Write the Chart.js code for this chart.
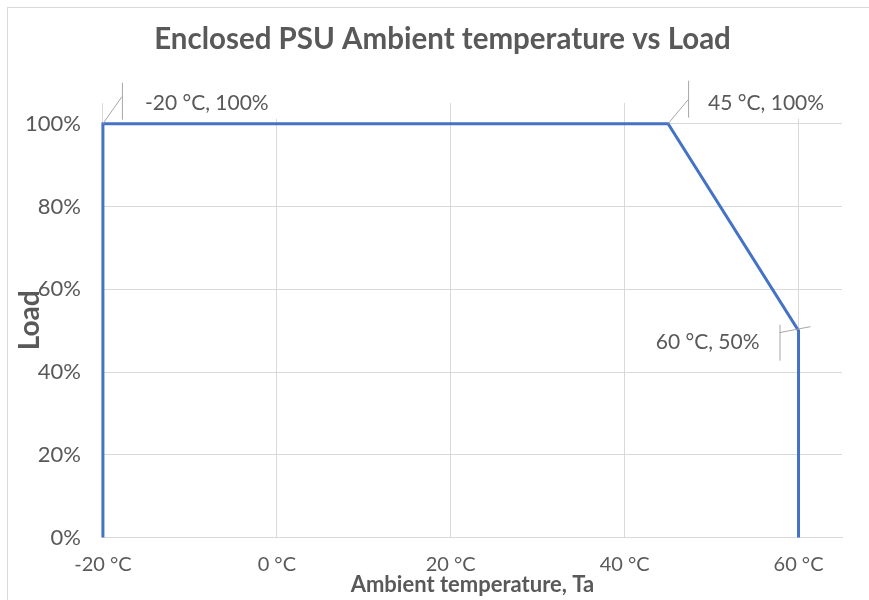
<!DOCTYPE html>
<html>
<head>
<meta charset="utf-8">
<script src="https://cdn.jsdelivr.net/npm/chart.js@4/dist/chart.umd.min.js"></script>
<style>
  html, body { margin: 0; padding: 0; background: #fff; }
  #wrap { width: 869px; height: 600px; position: relative; }
</style>
</head>
<body>
<div id="wrap"><canvas id="derating"></canvas></div>
<script>
// derating curve points (temperature in °C, load in %)
const temps = [-20, -20, 45, 60, 60];
const loads = [0, 100, 100, 50, 0];
const xTicks = [-20, 0, 20, 40, 60];
const yTicks = [0, 20, 40, 60, 80, 100];
const labelledPoints = [1, 2, 3];

const grey = '#595959';
const gridGrey = '#d9d9d9';
const fontFamily = 'Lato, "Open Sans", sans-serif';

// where each data label sits relative to its point
const labelStyle = {
    1: { dx: 42, dy: -20, align: 'left', lead: [19, -27], bar: [19, -41, 19, -4] },
    2: { dx: 40, dy: -20, align: 'left', lead: [20, -24], bar: [20, -43, 20, -6] },
    3: { dx: -39, dy: 12, align: 'right', lead: [-19, 2], bar: [-19, -6, -19, 30], lead2: [12, -4] }
};

const points = temps.map(function (t, i) { return { x: t, y: loads[i] }; });

const frame = {
    id: 'frame',
    afterLayout: function (chart) {
        // the title sits a little right of the canvas centre
        if (chart.titleBlock) {
            chart.titleBlock.left += 30;
        }
    },
    beforeDraw: function (chart) {
        const c = chart.ctx;
        c.save();
        c.strokeStyle = gridGrey;
        c.lineWidth = 1;
        c.strokeRect(7.5, 7.5, chart.width, chart.height);
        c.restore();
    }
};

const dataLabels = {
    id: 'dataLabels',
    afterDatasetsDraw: function (chart) {
        const c = chart.ctx;
        const meta = chart.getDatasetMeta(0);
        c.save();
        c.font = '21px ' + fontFamily;
        c.textBaseline = 'middle';
        labelledPoints.forEach(function (i) {
            const el = meta.data[i];
            const s = labelStyle[i];
            const text = temps[i] + ' °C, ' + loads[i] + '%';
            const w = c.measureText(text).width;
            const tx = el.x + s.dx;
            const ty = el.y + s.dy;
            const left = s.align === 'left' ? tx : tx - w;
            // white label box
            c.fillStyle = '#fff';
            if (s.align === 'left') {
                c.fillRect(el.x + s.bar[0] + 1, ty - 15, w + (tx - el.x - s.bar[0]) + 8, 30);
            } else {
                c.fillRect(left - 8, ty - 14, w + 16, 28);
            }
            // leader lines
            c.strokeStyle = '#a6a6a6';
            c.lineWidth = 1;
            c.beginPath();
            if (s.lead2) {
                c.moveTo(el.x + s.lead2[0], el.y + s.lead2[1]);
            } else {
                c.moveTo(el.x, el.y);
            }
            c.lineTo(el.x + s.lead[0], el.y + s.lead[1]);
            c.moveTo(el.x + s.bar[0] + 0.5, el.y + s.bar[1]);
            c.lineTo(el.x + s.bar[2] + 0.5, el.y + s.bar[3]);
            c.stroke();
            c.fillStyle = grey;
            c.textAlign = 'left';
            c.fillText(text, left, ty);
        });
        c.restore();
    }
};

new Chart(document.getElementById('derating'), {
    type: 'scatter',
    data: {
        datasets: [{
            data: points,
            showLine: true,
            borderColor: '#4472c4',
            backgroundColor: '#4472c4',
            borderWidth: 3,
            pointRadius: 0,
            tension: 0,
            clip: false
        }]
    },
    options: {
        responsive: true,
        maintainAspectRatio: false,
        animation: false,
        layout: { padding: { top: 0, left: 13, right: 27, bottom: 2 } },
        plugins: {
            legend: { display: false },
            tooltip: { enabled: false },
            title: {
                display: true,
                text: 'Enclosed PSU Ambient temperature vs Load',
                color: grey,
                font: { family: fontFamily, size: 29.5, weight: 'bold' },
                padding: { top: 22, bottom: 45.6 }
            }
        },
        scales: {
            x: {
                type: 'linear',
                min: -20,
                max: 65,
                afterBuildTicks: function (axis) {
                    axis.ticks = xTicks.map(function (v) { return { value: v }; });
                },
                ticks: {
                    color: grey,
                    padding: 15,
                    font: { family: fontFamily, size: 20 },
                    callback: function (v) { return v + ' °C'; }
                },
                grid: { color: gridGrey, drawTicks: false },
                border: { color: gridGrey },
                title: {
                    display: true,
                    text: 'Ambient temperature, Ta',
                    color: grey,
                    font: { family: fontFamily, size: 22, weight: 'bold' },
                    padding: { top: -20, bottom: 0 }
                }
            },
            y: {
                min: 0,
                max: 105,
                afterBuildTicks: function (axis) {
                    axis.ticks = yTicks.map(function (v) { return { value: v }; });
                },
                ticks: {
                    color: grey,
                    padding: 22,
                    font: { family: fontFamily, size: 22 },
                    callback: function (v) { return v + '%'; }
                },
                grid: { color: gridGrey, drawTicks: false },
                border: { display: false },
                title: {
                    display: true,
                    text: 'Load',
                    color: grey,
                    font: { family: fontFamily, size: 28, weight: 'bold' },
                    padding: { top: 0, bottom: -43.6 }
                }
            }
        }
    },
    plugins: [frame, dataLabels]
});
</script>
</body>
</html>
